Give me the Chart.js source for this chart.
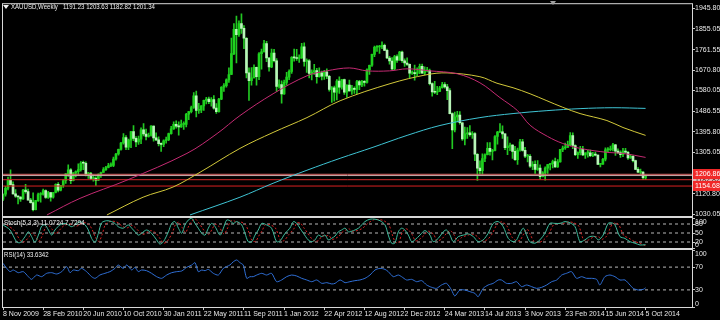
<!DOCTYPE html>
<html>
<head>
<meta charset="utf-8">
<title>XAUUSD Weekly</title>
<script src="https://cdn.jsdelivr.net/npm/chart.js@4.4.1/dist/chart.umd.min.js"></script>
<style>
  html, body { margin:0; padding:0; background:#000; }
  #wrap { position:relative; width:720px; height:320px; background:#000; overflow:hidden; }
  canvas { position:absolute; left:0; top:0; }
  .lbl { position:absolute; color:#f0f0f0; font-family:"Liberation Sans",Arial,sans-serif; font-size:8px; line-height:9px; white-space:pre; transform:scaleX(0.76); transform-origin:0 0; }
  .tri { position:absolute; width:0; height:0; border-left:3px solid transparent; border-right:3px solid transparent; }
</style>
</head>
<body>
<div id="wrap">
  <canvas id="cMain" width="720" height="320"></canvas>
  <canvas id="cStoch" width="720" height="320"></canvas>
  <canvas id="cRsi" width="720" height="320"></canvas>
  <div class="tri" style="left:3px;top:5px;border-top:4px solid #f0f0f0;"></div>
  <div class="lbl" style="left:11px;top:2px;">XAUUSD,Weekly   1191.23 1203.63 1182.82 1201.34</div>
  <div class="tri" style="left:550px;top:1px;border-top:4px solid #a0a0a0;"></div>
  <div class="lbl" style="left:4px;top:218px;transform:scaleX(0.8);">Stoch(5,3,3) 11.0724 7.7294</div>
  <div class="lbl" style="left:4px;top:250px;">RSI(14) 33.6342</div>
</div>
<script>
// ---------------- DATA (weekly XAUUSD, week index 0 = 8 Nov 2009) ----------------
const opens = [1096,1118,1145,1180,1161,1120,1110,1106,
1097,1137,1130,1092,1081,1050,1090,1117,1118,1134,1104,1126,
1105,1126,1162,1136,1157,1179,1209,1227,1178,1213,
1219,1228,1257,1256,1209,1210,1189,1189,1181,1205,
1215,1228,1237,1246,1246,1275,1297,1318,1346,1370,
1328,1359,1397,1367,1351,1363,1405,1386,1375,1380,
1421,1369,1360,1343,1340,1356,1361,1388,1409,1429,
1421,1418,1429,1429,1474,1486,1504,1556,1491,1492,
1511,1536,1542,1530,1539,1501,1486,1541,1594,1601,
1627,1651,1744,1852,1828,1877,1856,1812,1658,1623,
1636,1683,1641,1743,1752,1788,1724,1684,1746,1712,
1598,1606,1564,1616,1639,1665,1727,1725,1722,1725,
1774,1709,1712,1656,1662,1668,1641,1658,1643,1663,
1643,1584,1591,1572,1622,1595,1628,1572,1604,1578,
1589,1584,1619,1604,1620,1616,1672,1692,1740,1772,
1773,1773,1780,1758,1724,1711,1676,1731,1715,1751,
1712,1702,1696,1657,1658,1655,1661,1687,1657,1667,
1668,1610,1573,1572,1576,1592,1606,1596,1579,1477,
1404,1462,1470,1436,1364,1387,1391,1383,1388,1296,
1234,1223,1277,1294,1322,1309,1313,1375,1395,1396,
1387,1325,1332,1337,1309,1272,1315,1351,1313,1287,
1287,1243,1251,1229,1235,1196,1213,1234,1250,1254,
1264,1240,1262,1318,1324,1326,1339,1379,1335,1294,
1303,1318,1293,1301,1302,1290,1293,1292,1251,1252,
1274,1316,1316,1320,1338,1310,1303,1294,1310,1305,
1280,1287,1268,1229,1216,1217,1191.23];
const highs = [1120,1153,1195,1227,1173,1139,1112,1108,
1140,1162,1141,1100,1125,1091,1123,1126,1141,1138,1131,1127,
1127,1164,1170,1158,1183,1210,1249,1232,1215,1222,
1253,1264,1266,1262,1216,1216,1203,1196,1209,1217,
1237,1242,1256,1258,1283,1300,1319,1349,1388,1379,
1364,1398,1424,1375,1377,1414,1432,1408,1390,1424,
1422,1391,1373,1347,1360,1372,1390,1420,1440,1445,
1440,1448,1440,1478,1487,1510,1570,1577,1523,1513,
1537,1549,1550,1548,1557,1522,1545,1597,1610,1632,
1681,1813,1877,1911,1889,1921,1868,1815,1680,1682,
1694,1684,1748,1764,1803,1798,1727,1764,1763,1722,
1627,1623,1626,1661,1672,1730,1764,1763,1738,1790,
1792,1720,1717,1672,1696,1678,1680,1666,1669,1676,
1647,1597,1599,1628,1640,1629,1630,1605,1626,1603,
1596,1625,1625,1625,1624,1676,1693,1742,1777,1779,
1781,1796,1786,1764,1732,1726,1736,1738,1754,1755,
1721,1725,1698,1667,1693,1680,1697,1697,1685,1683,
1675,1614,1620,1598,1598,1616,1615,1607,1588,1480,
1484,1487,1486,1437,1417,1415,1424,1397,1392,1299,
1267,1298,1298,1348,1348,1318,1379,1398,1433,1422,
1388,1373,1346,1339,1331,1324,1362,1362,1327,1296,
1295,1263,1267,1268,1249,1219,1240,1251,1256,1270,
1279,1272,1318,1332,1346,1355,1392,1391,1338,1307,
1331,1331,1304,1315,1315,1305,1306,1294,1255,1278,
1325,1326,1332,1345,1340,1320,1311,1322,1322,1309,
1296,1290,1270,1237,1230,1219,1203.63];
const lows = [1090,1110,1137,1159,1118,1104,1075,1086,
1095,1123,1093,1079,1044,1048,1086,1083,1114,1100,1100,1087,
1101,1124,1128,1133,1149,1166,1197,1165,1177,1195,
1206,1221,1227,1200,1189,1183,1176,1157,1179,1193,
1215,1224,1235,1241,1241,1270,1292,1314,1341,1316,
1316,1325,1357,1330,1340,1343,1378,1360,1372,1377,
1354,1356,1333,1309,1330,1345,1356,1385,1407,1412,
1381,1415,1406,1418,1450,1480,1500,1462,1478,1481,
1491,1520,1521,1510,1497,1478,1483,1539,1576,1595,
1616,1650,1739,1702,1820,1833,1766,1636,1535,1603,
1636,1603,1628,1675,1750,1708,1666,1681,1707,1576,
1590,1523,1562,1603,1628,1656,1710,1713,1705,1722,
1688,1660,1636,1627,1651,1612,1639,1627,1629,1632,
1577,1527,1532,1538,1567,1585,1562,1549,1577,1562,
1567,1566,1583,1597,1599,1612,1651,1687,1730,1753,
1745,1766,1757,1721,1697,1672,1672,1705,1714,1705,
1687,1691,1636,1651,1626,1645,1655,1656,1650,1662,
1605,1554,1565,1561,1574,1590,1590,1539,1476,1321,
1395,1440,1430,1358,1338,1366,1377,1366,1268,1180,
1207,1207,1263,1293,1292,1271,1311,1341,1392,1366,
1316,1294,1312,1277,1269,1251,1310,1310,1281,1262,
1237,1228,1211,1224,1185,1195,1181,1211,1226,1235,
1238,1238,1261,1307,1317,1326,1334,1321,1290,1277,
1293,1290,1277,1283,1285,1285,1289,1251,1240,1251,
1266,1307,1311,1311,1291,1299,1282,1285,1302,1273,
1277,1262,1228,1214,1208,1183,1182.82];
const closes = [1118,1145,1180,1161,1120,1110,1106,1097,
1137,1130,1092,1081,1050,1090,1117,1118,1134,1104,1126,1105,
1126,1162,1136,1157,1179,1209,1227,1178,1213,1219,
1228,1257,1256,1209,1210,1189,1189,1181,1205,1215,
1228,1237,1246,1246,1275,1297,1318,1346,1370,1328,
1359,1397,1367,1351,1363,1405,1386,1375,1380,1421,
1369,1360,1343,1340,1356,1361,1388,1409,1429,1421,
1418,1429,1429,1474,1486,1504,1556,1491,1492,1511,
1536,1542,1530,1539,1501,1486,1541,1594,1601,1627,
1651,1744,1852,1828,1877,1856,1812,1658,1623,1636,
1683,1641,1743,1752,1788,1724,1684,1746,1712,1598,
1606,1564,1616,1639,1665,1727,1725,1722,1725,1774,
1709,1712,1656,1662,1668,1641,1658,1643,1663,1643,
1584,1591,1572,1622,1595,1628,1572,1604,1578,1589,
1584,1619,1604,1620,1616,1672,1692,1740,1772,1773,
1773,1780,1758,1724,1711,1676,1731,1715,1751,1712,
1702,1696,1657,1658,1655,1661,1687,1657,1667,1668,
1610,1573,1572,1576,1592,1606,1596,1579,1477,1404,
1462,1470,1436,1364,1387,1391,1383,1388,1296,1234,
1223,1277,1294,1322,1309,1313,1375,1395,1396,1387,
1325,1332,1337,1309,1272,1315,1351,1313,1287,1287,
1243,1251,1229,1235,1196,1213,1234,1250,1254,1264,
1240,1262,1318,1324,1326,1339,1379,1335,1294,1303,
1318,1293,1301,1302,1290,1293,1292,1251,1252,1274,
1316,1316,1320,1338,1310,1303,1294,1310,1305,1280,
1287,1268,1229,1216,1217,1192,1201.34];

// moving averages: [week index, price]
const maPink = [[17.5,1026],[30.7,1100],[49.4,1181],[73.3,1300],[85.3,1388],[94.4,1468],[107.6,1565],[121.1,1645],[129,1667],[138,1680],[145,1667],[154,1667],[161,1676],[170,1667],[181,1654],[190,1614],[198,1548],[205,1490],[210,1425],[217,1375],[223,1344],[230,1322],[241,1304],[247,1300],[256,1282]];
const maYellow = [[41.4,1026],[55.8,1105],[67.7,1150],[78.5,1216],[94.4,1322],[107.6,1393],[121.1,1459],[134.3,1534],[154.2,1610],[168.9,1650],[176.9,1658],[190,1641],[196.8,1612],[203.2,1592],[210,1565],[216.7,1534],[223,1505],[229.9,1477],[240.6,1446],[247,1415],[256,1380]];
const maCyan = [[74.5,1026],[94.4,1105],[107.6,1167],[121.1,1225],[134.3,1278],[147.4,1327],[161,1380],[174.1,1424],[190,1459],[203.2,1477],[216.7,1490],[229.9,1499],[243,1503],[256,1500]];

// horizontal price levels
const levelPrices = [1201.34, 1182.82, 1206.86, 1154.68];

// price axis tick labels
const priceTicks = [1945.80,1855.05,1761.55,1670.80,1580.05,1486.55,1395.80,1305.05,1120.80,1030.05];

// Stochastic (5,3,3): [week index, value]
const stochMain = [[0,77],[2.8,60],[5.4,21],[6.8,18],[8.8,38],[10.1,54],[11.4,38],[12.7,19],[14.1,43],[15.4,73],[16.7,77],[18.1,60],[19.4,43],[20.7,60],[22.7,77],[24.7,82],[26,77],[27.4,71],[28.7,77],[30.7,88],[32.7,77],[34,60],[35.3,32],[36.7,19],[38,49],[39.3,84],[41.3,91],[43.3,88],[44.6,82],[45.9,71],[47.9,66],[49.9,77],[51.3,66],[52.6,54],[53.9,43],[55.2,49],[57.2,60],[59.2,49],[61.2,27],[62.5,13],[63.9,21],[65.9,54],[67.2,82],[68.5,88],[69.9,66],[71.2,49],[72.5,77],[73.8,93],[75.2,99],[76.5,82],[77.8,66],[79.2,49],[80.5,43],[81.8,66],[83.1,82],[84.5,71],[86.5,43],[87.8,66],[89.1,93],[90.4,91],[91.8,82],[93.1,88],[95.1,77],[96.4,49],[97.7,21],[99.1,21],[100.4,43],[101.7,60],[103.1,82],[105,77],[107,66],[109,21],[110.4,24],[112.4,49],[114.3,66],[115.7,88],[117,82],[118.3,66],[119.7,49],[121.6,27],[123,21],[124.3,27],[125.6,43],[127,38],[128.3,43],[129.6,27],[130.9,32],[132.3,40],[133.6,54],[134.9,60],[136.3,66],[137.6,54],[139.6,58],[141.6,66],[144.2,88],[146.2,96],[148.2,96],[150.2,91],[152.2,77],[153.5,43],[154.8,16],[156.1,16],[157.5,54],[158.8,66],[160.1,60],[161.5,43],[162.8,21],[164.1,27],[166.1,43],[168.1,58],[170.1,43],[171.4,21],[173.4,32],[175.4,54],[176.7,60],[178.1,43],[179.4,21],[181.4,38],[183.4,43],[185.4,47],[187.4,38],[189.3,21],[191.3,27],[193.3,49],[195.3,82],[197.3,88],[199.3,71],[201.3,32],[203.3,21],[204.6,27],[205.9,49],[207.3,66],[208.6,43],[209.9,21],[211.9,16],[213.9,27],[215.9,49],[217.9,82],[219.9,82],[221.9,82],[223.9,88],[225.9,84],[227.9,71],[229.9,21],[231.8,27],[233.8,38],[235.8,38],[237.2,27],[239.1,43],[241.1,82],[242.5,84],[243.8,77],[245.8,38],[247.8,32],[249.8,21],[251.8,16],[253.8,10],[256,11.07]];
const stochSignal = [[1.5,77],[4.3,60],[6.9,25],[8.3,20],[10.3,36],[11.6,50],[12.9,40],[14.2,22],[15.6,40],[16.9,68],[18.2,75],[19.6,62],[20.9,47],[22.2,57],[24.2,74],[26.2,80],[27.5,78],[28.9,72],[30.2,76],[32.2,85],[34.2,78],[35.5,62],[36.8,36],[38.2,22],[39.5,45],[40.8,78],[42.8,89],[44.8,88],[46.1,83],[47.4,73],[49.4,67],[51.4,75],[52.8,67],[54.1,56],[55.4,45],[56.7,48],[58.7,58],[60.7,51],[62.7,30],[64,16],[65.4,22],[67.4,50],[68.7,78],[70,86],[71.4,68],[72.7,52],[74,73],[75.3,90],[76.7,96],[78,84],[79.3,68],[80.7,52],[82,45],[83.3,63],[84.6,79],[86,72],[88,47],[89.3,63],[90.6,89],[91.9,91],[93.3,84],[94.6,87],[96.6,78],[97.9,53],[99.2,25],[100.6,22],[101.9,40],[103.2,57],[104.6,78],[106.5,77],[108.5,67],[110.5,27],[111.9,24],[113.9,45],[115.8,63],[117.2,84],[118.5,83],[119.8,68],[121.2,52],[123.1,30],[124.5,22],[125.8,26],[127.1,40],[128.5,39],[129.8,42],[131.1,29],[132.4,32],[133.8,39],[135.1,52],[136.4,59],[137.8,64],[139.1,56],[141.1,58],[143.1,65],[145.7,84],[147.7,94],[149.7,95],[151.7,91],[153.7,78],[155,47],[156.3,20],[157.6,18],[159,50],[160.3,64],[161.6,60],[163,45],[164.3,24],[165.6,27],[167.6,41],[169.6,56],[171.6,45],[172.9,24],[174.9,31],[176.9,51],[178.2,58],[179.6,45],[180.9,24],[182.9,36],[184.9,42],[186.9,46],[188.9,39],[190.8,24],[192.8,27],[194.8,46],[196.8,78],[198.8,87],[200.8,73],[202.8,36],[204.8,23],[206.1,27],[207.4,46],[208.8,63],[210.1,45],[211.4,24],[213.4,18],[215.4,27],[217.4,46],[219.4,78],[221.4,82],[223.4,82],[225.4,87],[227.4,84],[229.4,73],[231.4,26],[233.3,27],[235.3,37],[237.3,37],[238.7,29],[240.6,41],[242.6,78],[244,83],[245.3,78],[247.3,42],[249.3,33],[251.3,23],[253.3,17],[255.3,10],[256,7.73]];
const stochLevels = [80, 50, 20];
const stochTicks = [100, 80, 50, 20, 0];

// RSI(14): [week index, value]
const rsiPoints = [[0,76.6],[1.5,67.8],[2.8,62],[4.1,64.9],[6.1,60.2],[8.1,62],[10.1,53.2],[11.4,48.5],[13.4,56.1],[15.4,53.2],[17.4,59.1],[19.4,60.2],[21.4,57.9],[23.4,62],[25.4,70.8],[26.7,60.2],[28,64.9],[30,63.7],[31.3,67.8],[33.3,62],[35.3,53.2],[36.7,50.3],[38.6,56.1],[40.6,59.1],[42.6,62],[44.6,67.8],[45.9,73.7],[47.9,67.8],[49.3,73.7],[51.3,64.9],[52.6,69.6],[53.9,62],[55.2,64.9],[57.2,63.7],[59.2,59.1],[61.2,53.2],[63.2,50.3],[65.2,56.1],[67.2,60.2],[69.2,62],[71.2,63.2],[73.2,69.6],[75.2,73.7],[76.5,77.8],[77.8,62],[79.2,64.9],[80.5,63.7],[81.8,66],[83.8,59.1],[85.8,56.1],[87.8,67.8],[90.4,73.7],[91.8,79.5],[93.1,82.5],[94.4,77.8],[95.7,73.7],[97.1,50.3],[98.4,53.2],[99.7,53.2],[101.1,56.1],[103.1,59.1],[105,56.1],[107,59.1],[109,44.4],[111,47.4],[113,53.2],[115,56.1],[117,54.4],[119,50.3],[121,47.4],[123,44.4],[125,47.4],[127,41.5],[129,42.7],[131,40.4],[132.3,41.5],[134.3,47.4],[136.3,42.7],[138.2,44.4],[140.2,46.2],[142.2,47.4],[144.2,50.3],[146.2,56.1],[148.2,64.9],[150.2,67.8],[152.2,66],[153.5,62],[155.5,53.2],[157.5,56.1],[158.8,53.2],[160.8,47.4],[162.8,48.5],[164.8,44.4],[166.8,46.2],[168.8,38.6],[170.8,34.5],[172.7,32.7],[174.7,38.6],[176.7,41.5],[178.7,29.8],[180,19.3],[182,29.8],[184,29.8],[186,26.9],[188,24],[189.3,18.1],[191.3,32.7],[193.3,38.6],[195.3,41.5],[197.3,47.4],[198.6,47.4],[200.6,41.5],[202.6,41.5],[204.6,44.4],[206.6,35.7],[208.6,38.6],[210.6,35.7],[212.6,32.7],[214.6,34.5],[216.6,38.6],[218.6,44.4],[220.6,47.4],[222.6,56.1],[224.5,59.1],[226.5,62],[228.5,50.3],[230.5,53.2],[232.5,50.3],[234.5,50.3],[236.5,48.5],[237.8,38.6],[239.8,53.2],[241.8,56.1],[243.8,53.2],[245.8,47.4],[247.8,47.4],[249.8,38.6],[251.1,32.7],[253.1,29.8],[255.1,31],[256,33.63]];
const rsiLevels = [70, 30];
const rsiTicks = [100, 70, 30, 0];

// date axis
const dateTickWeeks = [0,16,32,48,64,80,96,112,128,144,160,176,192,208,224,240,256];
const dateTickLabels = ['8 Nov 2009','28 Feb 2010','20 Jun 2010','10 Oct 2010','30 Jan 2011','22 May 2011','11 Sep 2011','1 Jan 2012','22 Apr 2012','12 Aug 2012','2 Dec 2012','24 Mar 2013','14 Jul 2013','3 Nov 2013','23 Feb 2014','15 Jun 2014','5 Oct 2014'];

// ---------------- STYLE / LAYOUT ----------------
const X_MIN = 0, X_MAX = 274.5;
const FONT = '"Liberation Sans",Arial,sans-serif';
Chart.defaults.font.family = FONT;
Chart.defaults.font.size = 7;
Chart.defaults.color = '#e8e8e8';
const AXIS_COL = '#c8c8c8';
const levelStyle = {
  1206.86: {line:'#e06a6a', bg:'#f02828', fg:'#ffffff'},
  1201.34: {line:'#c8a8a8', bg:'#b8b8b8', fg:'#202020'},
  1182.82: {line:'#d02a2a', bg:'#e8b0b0', fg:'#401010'},
  1154.68: {line:'#d82020', bg:'#f02828', fg:'#ffffff'}
};

const framePlugin = {
  id: 'frame',
  afterDraw(chart) {
    const {ctx, chartArea: a} = chart;
    ctx.save();
    ctx.strokeStyle = '#d8d8d8';
    ctx.lineWidth = 1;
    ctx.strokeRect(a.left - 0.5, a.top - 0.5, a.right - a.left + 1, a.bottom - a.top + 1);
    ctx.restore();
  }
};
const clampPlugin = {
  id: 'clampTicks',
  beforeDraw(chart) {
    const s = chart.scales.y, a = chart.chartArea;
    try {
      s.getLabelItems().forEach(it => {
        const t = it.options.translation;
        t[1] = Math.min(Math.max(t[1], a.top + 4), a.bottom - 3);
      });
    } catch (e) {}
  }
};
const tagPlugin = {
  id: 'priceTags',
  afterDraw(chart) {
    const ctx = chart.ctx, ys = chart.scales.y;
    ctx.save();
    ctx.font = '7px ' + FONT;
    ctx.textBaseline = 'middle';
    ctx.textAlign = 'left';
    levelPrices.forEach(p => {
      const st = levelStyle[p];
      const y = Math.round(ys.getPixelForValue(p));
      ctx.fillStyle = st.bg;
      ctx.fillRect(693, y - 5, 27, 10);
      ctx.fillStyle = st.fg;
      ctx.fillText(p.toFixed(2), 695, y + 0.5);
    });
    ctx.restore();
  }
};

function yAxis(min, max, ticks, fmt) {
  return {
    position: 'right', min, max,
    afterFit(s) { s.width = 28; },
    afterBuildTicks(s) { s.ticks = ticks.map(v => ({value: v})); },
    ticks: { autoSkip: false, padding: 0, color: '#e8e8e8', callback: fmt },
    grid: { drawOnChartArea: false, drawTicks: true, tickLength: 3, color: AXIS_COL },
    border: { display: false }
  };
}
function hiddenX() {
  return { type: 'linear', min: X_MIN, max: X_MAX, display: false, offset: false };
}
const pts = arr => arr.map(([x, y]) => ({x, y}));
const hLine = v => [{x: X_MIN, y: v}, {x: X_MAX, y: v}];
const lineDs = (data, color, extra) => Object.assign({type: 'line', data, borderColor: color, borderWidth: 1, pointRadius: 0, fill: false, tension: 0.3}, extra || {});
const common = { responsive: false, animation: false, events: [], devicePixelRatio: 1,
  plugins: { legend: { display: false }, tooltip: { enabled: false } } };

// ---------------- MAIN PRICE PANE ----------------
const idx = closes.map((_, i) => i);
new Chart(document.getElementById('cMain'), {
  type: 'bar',
  data: {
    datasets: [
      lineDs(pts(maPink), '#c42a72', {order: 0, tension: 0.35}),
      lineDs(pts(maYellow), '#d2c83a', {order: 0, tension: 0.35}),
      lineDs(pts(maCyan), '#3fc4d4', {order: 0, tension: 0.35}),
      ...levelPrices.map(p => lineDs(hLine(p), levelStyle[p].line, {order: 1, tension: 0})),
      { label: 'body', order: 2, grouped: false, barThickness: 2, minBarLength: 1,
        data: idx.map(i => ({x: i, y: [opens[i], closes[i]]})),
        backgroundColor: c => (closes[c.dataIndex] >= opens[c.dataIndex] ? '#1ed21e' : '#b8f5b8') },
      { label: 'wick', order: 3, grouped: false, barThickness: 1,
        data: idx.map(i => ({x: i, y: [lows[i], highs[i]]})),
        backgroundColor: '#22c822' }
    ]
  },
  options: Object.assign({}, common, {
    layout: { padding: { left: 3, top: 3, right: 0, bottom: 104 } },
    scales: {
      x: hiddenX(),
      y: yAxis(1021.4, 1963.5, priceTicks, v => Number(v).toFixed(2))
    }
  }),
  plugins: [framePlugin, tagPlugin]
});

// ---------------- STOCHASTIC PANE ----------------
new Chart(document.getElementById('cStoch'), {
  type: 'line',
  data: {
    datasets: [
      lineDs(pts(stochMain), '#3cbc9c', {order: 0}),
      lineDs(pts(stochSignal), '#d42222', {order: 1, borderDash: [2, 2]}),
      ...stochLevels.map(v => lineDs(hLine(v), '#b8b8b8', {order: 2, tension: 0, borderDash: [3, 3]}))
    ]
  },
  options: Object.assign({}, common, {
    layout: { padding: { left: 3, top: 218, right: 0, bottom: 72 } },
    scales: { x: hiddenX(), y: yAxis(0, 100, stochTicks, v => String(v)) }
  }),
  plugins: [framePlugin, clampPlugin]
});

// ---------------- RSI PANE ----------------
new Chart(document.getElementById('cRsi'), {
  type: 'line',
  data: {
    datasets: [
      lineDs(pts(rsiPoints), '#2f6fd6', {order: 0, tension: 0.25}),
      ...rsiLevels.map(v => lineDs(hLine(v), '#b8b8b8', {order: 1, tension: 0, borderDash: [3, 3]}))
    ]
  },
  options: Object.assign({}, common, {
    layout: { padding: { left: 3, top: 250, right: 0, bottom: 0 } },
    scales: {
      x: {
        type: 'linear', min: X_MIN, max: X_MAX, offset: false, position: 'bottom',
        afterFit(s) { s.height = 13; },
        afterBuildTicks(s) { s.ticks = dateTickWeeks.map(v => ({value: v})); },
        ticks: { autoSkip: false, maxRotation: 0, align: 'start', padding: 0, color: '#e8e8e8',
          callback: v => dateTickLabels[dateTickWeeks.indexOf(v)] },
        grid: { drawOnChartArea: false, drawTicks: true, tickLength: 3, color: AXIS_COL },
        border: { display: false }
      },
      y: yAxis(0, 100, rsiTicks, v => String(v))
    }
  }),
  plugins: [framePlugin, clampPlugin]
});
</script>
</body>
</html>
